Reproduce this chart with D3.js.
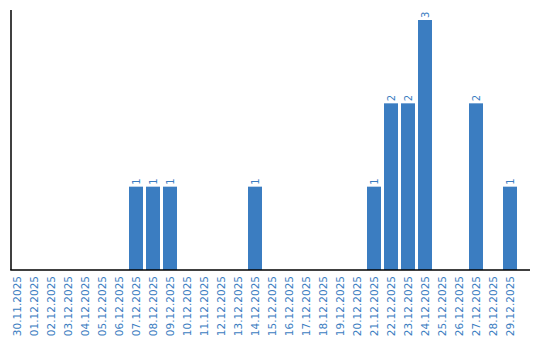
<!DOCTYPE html>
<html>
<head>
<meta charset="utf-8">
<script src="https://cdn.jsdelivr.net/npm/d3@7"></script>
<style>
  body { margin: 0; background: #fff; }
  #chart svg { display: block; }
</style>
</head>
<body>
<div id="chart"></div>
<script>
// Data: one count per day
var days = ["30.11.2025", "01.12.2025", "02.12.2025", "03.12.2025", "04.12.2025",
    "05.12.2025", "06.12.2025", "07.12.2025", "08.12.2025", "09.12.2025",
    "10.12.2025", "11.12.2025", "12.12.2025", "13.12.2025", "14.12.2025",
    "15.12.2025", "16.12.2025", "17.12.2025", "18.12.2025", "19.12.2025",
    "20.12.2025", "21.12.2025", "22.12.2025", "23.12.2025", "24.12.2025",
    "25.12.2025", "26.12.2025", "27.12.2025", "28.12.2025", "29.12.2025"];
var counts = [0, 0, 0, 0, 0, 0, 0, 1, 1, 1,
    0, 0, 0, 0, 1, 0, 0, 0, 0, 0,
    0, 1, 2, 2, 3, 0, 0, 2, 0, 1];

function drawChart() {
    d3.select("#chart").select("svg").remove();

    var width = 540, height = 340;
    var blue = "#3b7dc1";
    var font = "DejaVu Sans, Verdana, sans-serif";

    var svg = d3.select("#chart").append("svg")
        .attr("width", width)
        .attr("height", height);

    // X scale - bands of 17px, centers from 17
    var x = d3.scaleBand()
        .domain(days)
        .range([8.5, 8.5 + 17 * days.length])
        .paddingInner(3 / 17)
        .paddingOuter(1.5 / 17);

    // Y scale
    var y = d3.scaleLinear()
        .domain([0, 3])
        .range([270, 20]);

    // Bars (only non-zero)
    var data = days.map(function (d, i) { return { day: d, value: counts[i] }; });
    var nz = data.filter(function (d) { return d.value > 0; });

    svg.selectAll("rect.bar")
        .data(nz)
        .enter()
        .append("rect")
        .attr("class", "bar")
        .attr("x", function (d) { return x(d.day); })
        .attr("y", function (d) { return y(d.value); })
        .attr("width", x.bandwidth())
        .attr("height", function (d) { return y(0) - y(d.value); })
        .attr("fill", blue);

    // Value labels, rotated
    svg.selectAll("text.val")
        .data(nz)
        .enter()
        .append("text")
        .attr("class", "val")
        .attr("transform", function (d) {
            return "translate(" + (x(d.day) + x.bandwidth() / 2 + 3.5) + "," + (y(d.value) - 2) + ") rotate(-90)";
        })
        .attr("font-family", font)
        .attr("font-size", 10)
        .attr("fill", blue)
        .text(function (d) { return d.value; });

    // Axes lines
    svg.append("line")
        .attr("x1", 11).attr("x2", 11)
        .attr("y1", 10).attr("y2", 270)
        .attr("stroke", "#000").attr("stroke-width", 1.5);
    svg.append("line")
        .attr("x1", 10.25).attr("x2", 530)
        .attr("y1", 270).attr("y2", 270)
        .attr("stroke", "#000").attr("stroke-width", 1.5);

    // Tick labels, rotated
    svg.selectAll("text.tick")
        .data(days)
        .enter()
        .append("text")
        .attr("class", "tick")
        .attr("transform", function (d) {
            return "translate(" + (x(d) + x.bandwidth() / 2 + 4) + ",276) rotate(-90)";
        })
        .attr("text-anchor", "end")
        .attr("font-family", font)
        .attr("font-size", 10.5)
        .attr("fill", blue)
        .text(function (d) { return d; });
}

document.addEventListener('DOMContentLoaded', drawChart);
</script>
</body>
</html>
